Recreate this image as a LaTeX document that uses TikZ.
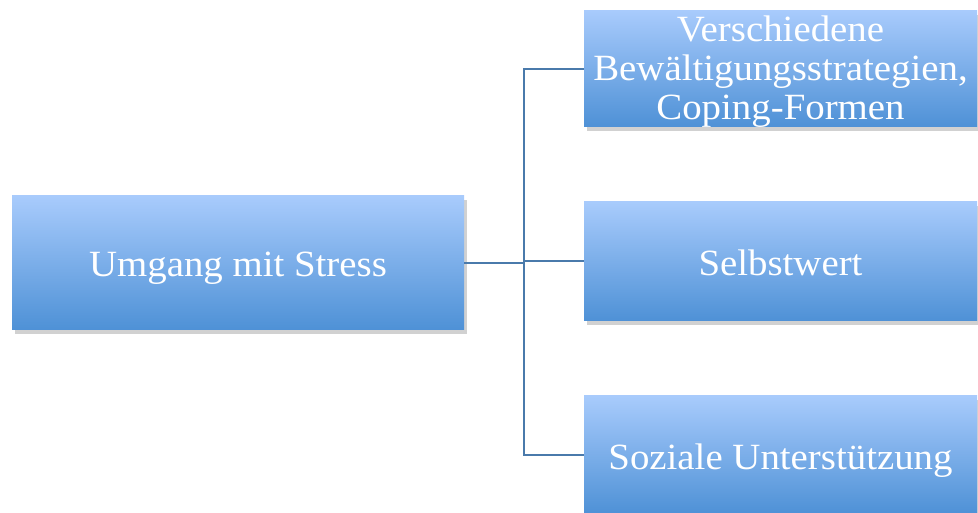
\documentclass[tikz,border=0pt]{standalone}
\usepackage{fontspec}
\setmainfont{Liberation Serif}[FakeStretch=1.05]
\usetikzlibrary{shadows}
\definecolor{gtop}{RGB}{168,203,252}
\definecolor{gbot}{RGB}{78,145,214}
\definecolor{lnk}{RGB}{74,122,171}
\newcommand\boxtext[2]{\makebox[0pt]{\raisebox{#1}[0pt][0pt]{\parbox[t]{420pt}{\centering #2}}}}
\tikzset{
  boxnode/.style={rectangle, top color=gtop, bottom color=gbot, draw=none,
    text=white, inner sep=0pt,
    font=\fontsize{37}{39}\selectfont,
    drop shadow={shadow xshift=3pt, shadow yshift=-4pt, opacity=0.3, fill=black!60}},
  link/.style={draw=lnk, line width=2pt}
}
\begin{document}
\begin{tikzpicture}[x=1pt,y=1pt]
\useasboundingbox (0,0) rectangle (978,512);
\node[boxnode, minimum width=452pt, minimum height=134pt] (L) at (238,249) {\boxtext{-14pt}{Umgang mit Stress}};
\node[boxnode, minimum width=393pt, minimum height=116pt] (A) at (780.5,443) {\boxtext{27pt}{Verschiedene\\Bewältigungsstrategien,\\Coping-Formen}};
\node[boxnode, minimum width=393pt, minimum height=119pt] (B) at (780.5,250.5) {\boxtext{-14pt}{Selbstwert}};
\node[boxnode, minimum width=393pt, minimum height=118pt] (C) at (780.5,57) {\boxtext{-14pt}{Soziale Unterstützung}};
\coordinate (j) at (524,249);
\draw[link] (L.east) -- (j);
\draw[link] (j) |- (A.west);
\draw[link] (j) |- (B.west);
\draw[link] (j) |- (C.west);
\end{tikzpicture}
\end{document}
